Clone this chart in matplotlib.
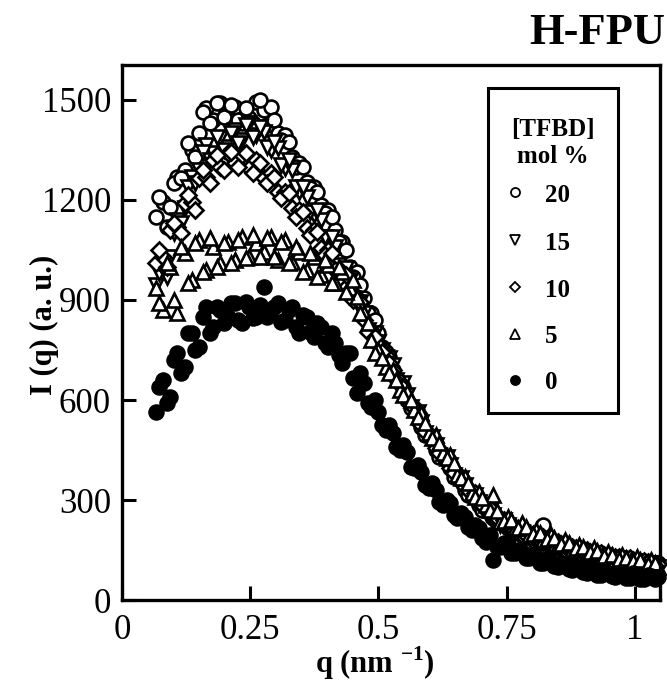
import matplotlib
matplotlib.use("Agg")
import matplotlib.pyplot as plt
from matplotlib.patches import Rectangle

plt.rcParams['font.family'] = 'Liberation Serif'
plt.rcParams['mathtext.fontset'] = 'custom'
plt.rcParams['mathtext.rm'] = 'Liberation Serif'
plt.rcParams['mathtext.bf'] = 'Liberation Serif:bold'

# scattering vector q (nm^-1), two interleaved sets of readings
q_a = [0.066, 0.080, 0.094, 0.108, 0.122, 0.136, 0.150, 0.164, 0.178, 0.192,
       0.206, 0.220, 0.234, 0.248, 0.262, 0.276, 0.290, 0.304, 0.318, 0.332,
       0.346, 0.360, 0.374, 0.388, 0.402, 0.416, 0.430, 0.444, 0.458, 0.472,
       0.486, 0.500, 0.514, 0.528, 0.542, 0.556, 0.570, 0.584, 0.598, 0.612,
       0.626, 0.640, 0.654, 0.668, 0.682, 0.696, 0.710, 0.724, 0.738, 0.752,
       0.766, 0.780, 0.794, 0.808, 0.822, 0.836, 0.850, 0.864, 0.878, 0.892,
       0.906, 0.920, 0.934, 0.948, 0.962, 0.976, 0.990, 1.004, 1.018, 1.032,
       1.046]
q_b = [0.073, 0.087, 0.101, 0.115, 0.129, 0.143, 0.157, 0.171, 0.185, 0.199,
       0.213, 0.227, 0.241, 0.255, 0.269, 0.283, 0.297, 0.311, 0.325, 0.339,
       0.353, 0.367, 0.381, 0.395, 0.409, 0.423, 0.437, 0.451, 0.465, 0.479,
       0.493, 0.507, 0.521, 0.535, 0.549, 0.563, 0.577, 0.591, 0.605, 0.619,
       0.633, 0.647, 0.661, 0.675, 0.689, 0.703, 0.717, 0.731, 0.745, 0.759,
       0.773, 0.787, 0.801, 0.815, 0.829, 0.843, 0.857, 0.871, 0.885, 0.899,
       0.913, 0.927, 0.941, 0.955, 0.969, 0.983, 0.997, 1.011, 1.025, 1.039]

# I(q) (a. u.) for each TFBD content (mol %)
i20_a = [1150, 1195, 1180, 1270, 1290, 1350, 1400, 1475, 1440, 1490,
         1450, 1480, 1430, 1445, 1495, 1470, 1480, 1400, 1395, 1330,
         1310, 1255, 1240, 1185, 1170, 1110, 1075, 1000, 985, 905,
         860, 800, 745, 690, 655, 600, 575, 520, 495, 450,
         435, 395, 375, 330, 320, 285, 275, 245, 240, 215,
         215, 195, 200, 175, 225, 160, 165, 150, 155, 140,
         145, 130, 135, 120, 128, 115, 122, 110, 115, 100,
         110]
i20_b = [1210, 1120, 1250, 1265, 1370, 1330, 1465, 1430, 1490, 1450,
         1485, 1440, 1475, 1430, 1500, 1425, 1440, 1380, 1375, 1300,
         1300, 1235, 1225, 1160, 1150, 1075, 1050, 970, 945, 860,
         840, 760, 730, 665, 640, 575, 560, 495, 485, 430,
         425, 370, 365, 315, 310, 270, 265, 235, 235, 210,
         212, 190, 192, 170, 178, 155, 162, 145, 152, 135,
         140, 125, 132, 118, 126, 110, 120, 105, 113, 100]
i15_a = [945, 1000, 1030, 1140, 1175, 1270, 1290, 1365, 1340, 1385,
         1360, 1410, 1380, 1430, 1395, 1405, 1350, 1355, 1295, 1290,
         1225, 1210, 1155, 1140, 1075, 1060, 985, 960, 890, 860,
         790, 775, 730, 705, 640, 615, 560, 535, 480, 465,
         420, 405, 360, 345, 305, 295, 260, 255, 225, 225,
         200, 205, 185, 185, 170, 170, 155, 158, 145, 150,
         135, 140, 125, 130, 118, 122, 112, 118, 105, 110,
         98]
i15_b = [980, 970, 1100, 1130, 1240, 1250, 1345, 1320, 1390, 1350,
         1400, 1370, 1425, 1390, 1420, 1360, 1375, 1305, 1320, 1240,
         1240, 1165, 1170, 1090, 1090, 1005, 995, 905, 895, 810,
         800, 750, 725, 660, 650, 580, 565, 500, 490, 435,
         430, 375, 365, 320, 315, 275, 270, 240, 240, 210,
         212, 190, 195, 172, 178, 160, 165, 148, 152, 138,
         142, 128, 134, 120, 125, 112, 118, 106, 112, 100]
i10_a = [1010, 1030, 1110, 1120, 1190, 1195, 1265, 1270, 1320, 1300,
         1340, 1310, 1335, 1295, 1320, 1265, 1280, 1225, 1225, 1175,
         1170, 1115, 1110, 1055, 1050, 990, 985, 930, 910, 840,
         810, 765, 735, 690, 655, 600, 575, 525, 495, 455,
         440, 395, 380, 340, 325, 290, 285, 250, 245, 220,
         220, 195, 200, 180, 190, 165, 175, 150, 160, 140,
         150, 130, 140, 125, 130, 115, 125, 110, 118, 100,
         108]
i10_b = [1050, 1000, 1130, 1100, 1215, 1170, 1290, 1250, 1335, 1290,
         1345, 1300, 1340, 1280, 1310, 1250, 1270, 1205, 1220, 1150,
         1165, 1095, 1105, 1035, 1040, 965, 975, 900, 895, 805,
         790, 745, 710, 670, 635, 585, 560, 505, 490, 440,
         430, 380, 370, 330, 320, 285, 275, 245, 240, 218,
         212, 195, 192, 178, 180, 162, 168, 150, 155, 140,
         145, 130, 135, 122, 128, 115, 120, 108, 115, 102]
i5_a = [935, 870, 1000, 860, 1040, 960, 1080, 990, 1060, 1010,
        1075, 1020, 1090, 1030, 1070, 1045, 1090, 1020, 1080, 1015,
        1045, 990, 1030, 975, 1005, 950, 985, 935, 910, 860,
        780, 750, 700, 690, 630, 625, 570, 560, 500, 495,
        440, 435, 375, 370, 320, 325, 285, 315, 235, 250,
        215, 230, 195, 210, 180, 195, 165, 180, 150, 165,
        140, 155, 130, 145, 120, 135, 115, 128, 105, 120,
        100]
i5_b = [890, 1010, 900, 1060, 950, 1070, 985, 1085, 1000, 1070,
        1010, 1080, 1025, 1095, 1030, 1085, 1030, 1075, 1010, 1060,
        985, 1040, 970, 1020, 950, 1000, 925, 960, 860, 830,
        740, 725, 680, 660, 615, 600, 550, 530, 485, 470,
        425, 410, 365, 350, 310, 305, 270, 268, 238, 240,
        215, 218, 198, 200, 182, 185, 168, 170, 155, 158,
        143, 146, 133, 136, 124, 127, 116, 119, 109, 111]
i0_a = [565, 660, 610, 740, 700, 800, 760, 880, 820, 870,
        850, 890, 830, 880, 850, 940, 870, 890, 840, 880,
        800, 850, 790, 820, 760, 770, 710, 740, 620, 650,
        580, 565, 510, 500, 450, 445, 395, 385, 335, 330,
        285, 290, 245, 250, 210, 215, 175, 120, 160, 165,
        140, 145, 125, 130, 110, 115, 100, 105, 90, 95,
        82, 88, 75, 82, 70, 78, 65, 75, 62, 72,
        68]
i0_b = [640, 590, 720, 680, 800, 750, 850, 800, 880, 830,
        890, 840, 895, 845, 885, 850, 880, 835, 870, 820,
        855, 805, 830, 770, 800, 735, 740, 665, 680, 590,
        600, 525, 525, 460, 465, 400, 405, 345, 350, 295,
        300, 255, 262, 218, 225, 185, 195, 160, 170, 142,
        150, 125, 135, 112, 122, 102, 110, 92, 100, 84,
        92, 76, 86, 72, 82, 66, 80, 64, 76, 62]

labels = ['20', '15', '10', '5', '0']
series = [(i20_a, i20_b), (i15_a, i15_b), (i10_a, i10_b),
          (i5_a, i5_b), (i0_a, i0_b)]
markers = ['o', 'v', 'D', '^', 'o']
msizes = [10, 10.5, 8, 10.5, 10]
faces = ['white', 'white', 'white', 'white', 'black']

fig = plt.figure(figsize=(6.67, 6.97), dpi=100)
ax = fig.add_axes([0.183, 0.139, 0.807, 0.768])

for (va, vb), m, ms, fc in zip(series, markers, msizes, faces):
    ax.plot(q_a + q_b, va + vb, ls='none', marker=m, ms=ms, mfc=fc,
            mec='black', mew=1.9, clip_on=False)

ax.set_xlim(0, 1.05)
ax.set_ylim(0, 1605)
ax.set_xticks([0, 0.25, 0.5, 0.75, 1])
ax.set_xticklabels(['0', '0.25', '0.5', '0.75', '1'])
ax.set_yticks([0, 300, 600, 900, 1200, 1500])
ax.tick_params(direction='in', length=10, width=2.2, labelsize=25,
               top=False, right=False)
ax.tick_params(axis='x', pad=10)
ax.tick_params(axis='y', pad=8)
for s in ax.spines.values():
    s.set_linewidth(2.4)

# legend box drawn by hand
ax.add_patch(Rectangle((0.680, 0.350), 0.242, 0.607, transform=ax.transAxes,
                       fill=True, fc='white', ec='black', lw=2.2, zorder=5))
ax.text(0.801, 0.879, '[TFBD]', transform=ax.transAxes, ha='center',
        va='center', fontsize=18, weight='bold', zorder=6)
ax.text(0.801, 0.828, 'mol %', transform=ax.transAxes, ha='center',
        va='center', fontsize=18, weight='bold', zorder=6)
rows = [0.756, 0.666, 0.579, 0.492, 0.406]
for lab, m, ms, fc, y in zip(labels, markers, msizes, faces, rows):
    ax.plot([0.730], [y + 0.006], transform=ax.transAxes, ls='none',
            marker=m, ms=ms * 0.65, mfc=fc, mec='black', mew=1.3, zorder=6)
    ax.text(0.786, y, lab, transform=ax.transAxes, ha='left', va='center',
            fontsize=18, weight='bold', zorder=6)

fig.text(0.997, 0.953, 'H-FPU', ha='right', va='center', fontsize=32,
         weight='bold')
fig.text(0.066, 0.534, 'I (q) (a. u.)', ha='center', va='center',
         rotation=90, fontsize=22, weight='bold')
fig.text(0.562, 0.049, r'q (nm $^{\mathbf{-1}}$)', ha='center', va='center',
         fontsize=22, weight='bold')

fig.savefig('out.png', dpi=100)
